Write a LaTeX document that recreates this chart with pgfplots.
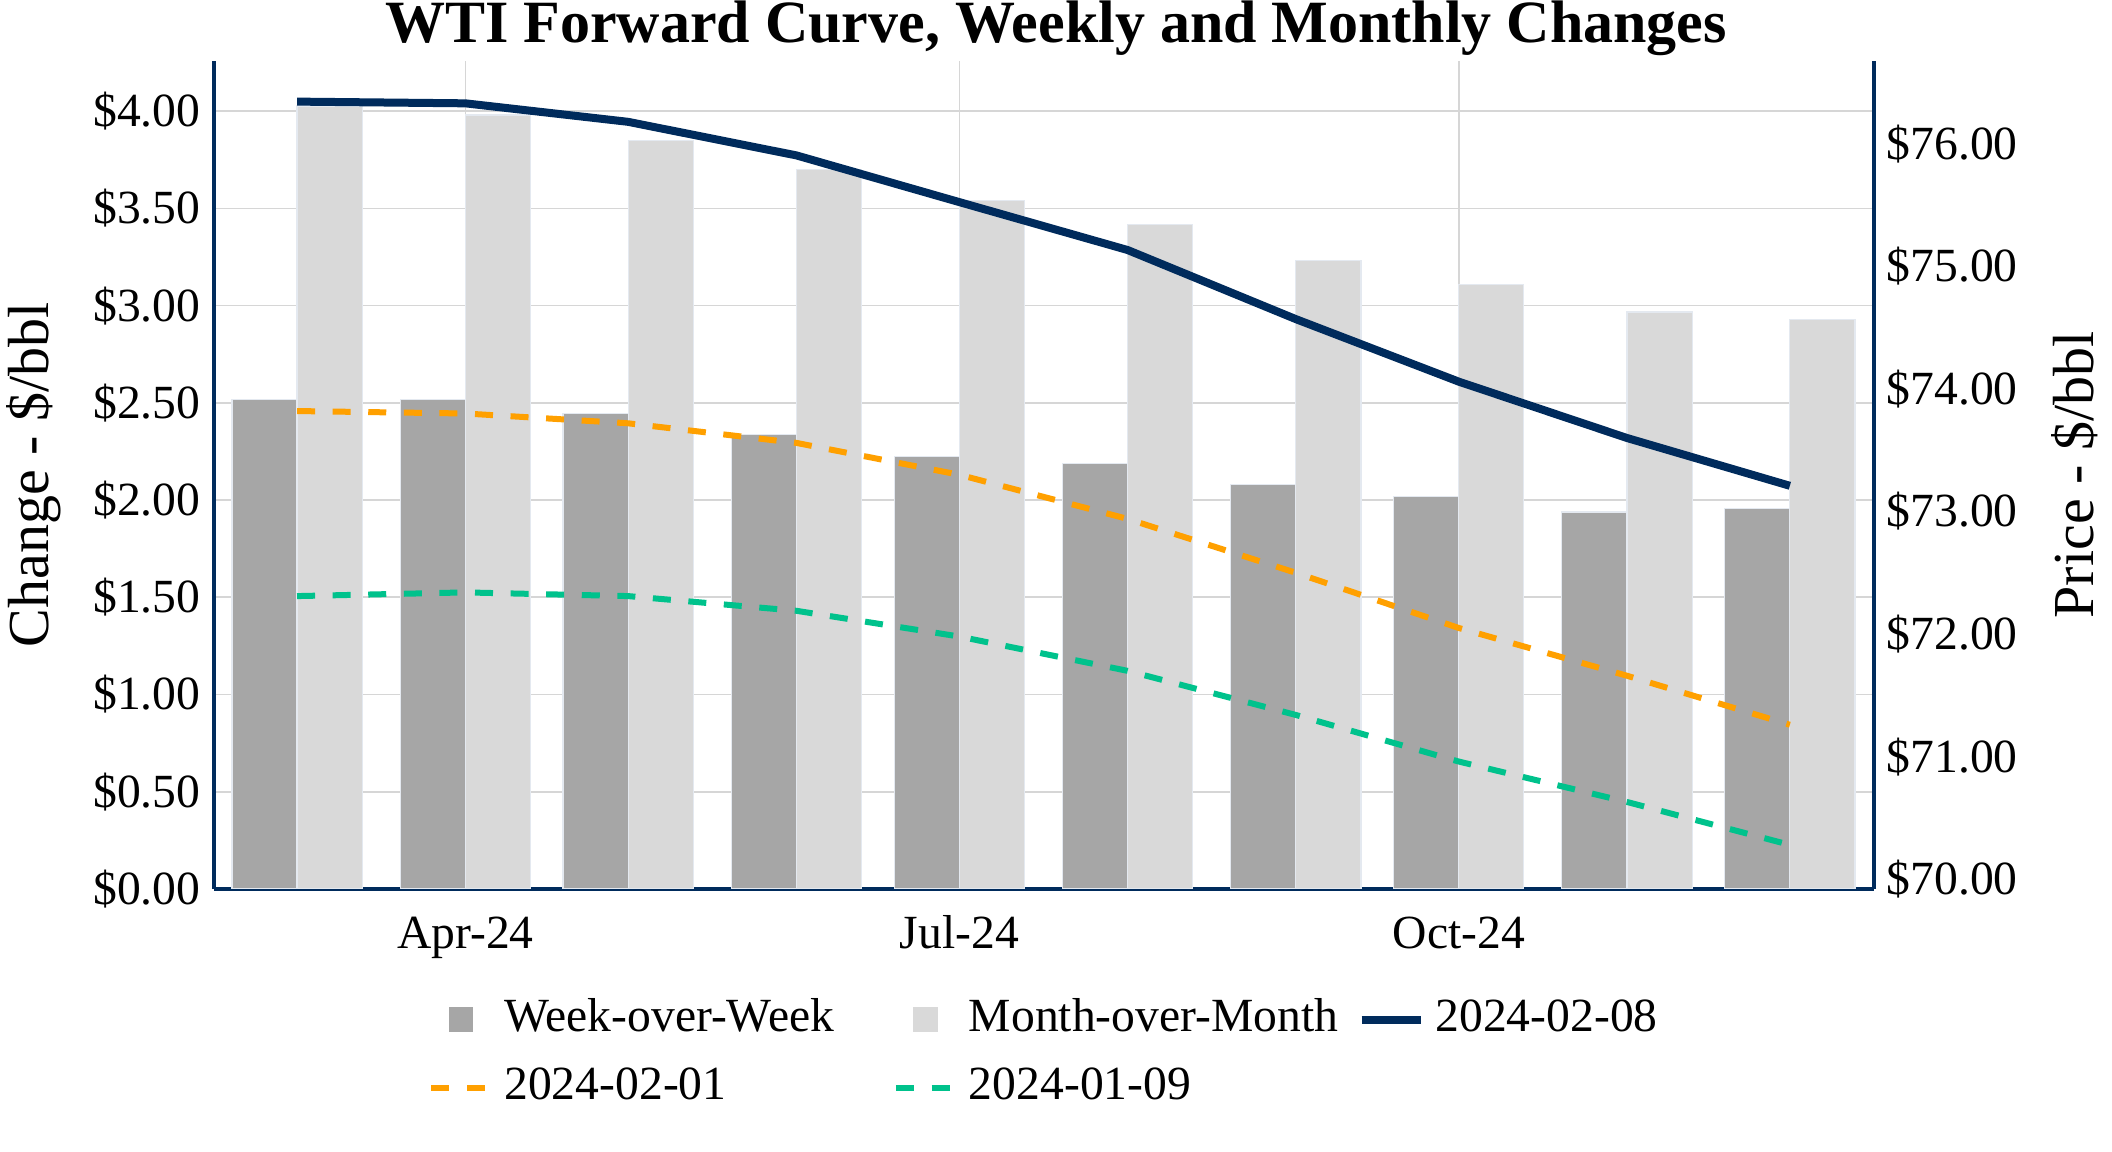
\documentclass[border=0pt]{standalone}
\usepackage{fontspec}
\setmainfont{Liberation Serif}
\usepackage{pgfplots}
\usepackage{pgfplotstable}
\pgfplotsset{compat=1.18}

\definecolor{navy}{RGB}{0,43,92}
\definecolor{wowc}{RGB}{166,166,166}
\definecolor{momc}{RGB}{217,217,217}
\definecolor{orng}{RGB}{255,160,0}
\definecolor{grn}{RGB}{0,194,140}
\definecolor{gridc}{RGB}{214,214,214}
\definecolor{bedge}{RGB}{228,233,240}

% x = days after 2024-03-01 (one point per month)
\pgfplotstableread{
x    wow   mom   feb08   feb01  jan09
0    2.518 4.026 76.345  73.82  72.31
31   2.518 3.980 76.331  73.80  72.34
61   2.447 3.848 76.180  73.72  72.31
92   2.336 3.698 75.906  73.56  72.19
122  2.226 3.541 75.525  73.30  71.98
153  2.189 3.417 75.134  72.94  71.70
184  2.079 3.230 74.570  72.50  71.34
214  2.020 3.108 74.060  72.05  70.96
245  1.939 2.967 73.600  71.66  70.63
275  1.957 2.930 73.210  71.26  70.28
}\curves

\pgfplotsset{
  twin/.style={
    scale only axis, width=415pt, height=207.1pt,
    xmin=-15.3, xmax=290.5,
    major tick length=0pt,
    /pgf/number format/assume math mode=true,
    ticklabel style={font=\fontsize{11.9}{13}\selectfont},
  },
}

\begin{document}
\begin{tikzpicture}
\path[use as bounding box] (-53.5pt,-65.75pt) rectangle (474.5pt,222.25pt);

\begin{axis}[
  twin,
  ymin=0, ymax=4.26,
  axis x line*=bottom, axis y line*=left,
  x axis line style={-, navy, line width=1pt},
  y axis line style={-, navy, line width=1pt},
  xtick={31,122,214},
  xticklabels={Apr-24,Jul-24,Oct-24},
  xticklabel style={anchor=base, yshift=-15pt},
  ytick={0,0.5,...,4},
  yticklabel={\$\pgfmathprintnumber[fixed,fixed zerofill,precision=2]{\tick}},
  yticklabel style={inner xsep=3.2pt},
  grid=major, grid style={gridc, line width=0.4pt},
  ybar=0pt, bar width=12,
]
  \addplot[fill=wowc, draw=bedge, line width=0.3pt] table[x=x, y=wow] {\curves};
  \addplot[fill=momc, draw=bedge, line width=0.3pt] table[x=x, y=mom] {\curves};
\end{axis}

\begin{axis}[
  twin,
  ymin=69.92, ymax=76.68,
  axis x line=none, axis y line*=right,
  y axis line style={-, navy, line width=1pt},
  ytick={70,71,...,76},
  yticklabel={\$\pgfmathprintnumber[fixed,fixed zerofill,precision=2]{\tick}},
  yticklabel style={inner xsep=3pt},
  legend image code/.code={\draw[#1] (0pt,0pt) -- (14.75pt,0pt);},
  legend columns=3,
  legend cell align=left,
  legend style={
    at={(rel axis cs:0,0)}, anchor=north west,
    xshift=53.4pt, yshift=-24pt,
    draw=none, fill=none, inner sep=0pt,
    font=\fontsize{11.9}{13}\selectfont,
    cells={anchor=west},
    nodes={inner xsep=2.75pt, inner ysep=2.5pt, text height=9pt, text depth=3pt},
    /tikz/column sep=0pt,
  },
]
  \addlegendimage{legend image code/.code={\fill[wowc] (4.5pt,-2.9pt) rectangle (10.3pt,2.9pt); \path (0pt,0pt) (14.75pt,0pt);}}
  \addlegendentry{\makebox[94.4pt][l]{Week-over-Week}}
  \addlegendimage{legend image code/.code={\fill[momc] (4.5pt,-2.9pt) rectangle (10.3pt,2.9pt); \path (0pt,0pt) (14.75pt,0pt);}}
  \addlegendentry{\makebox[94.4pt][l]{Month-over-Month}}

  \addplot[navy, line width=2pt] table[x=x, y=feb08] {\curves};
  \addlegendentry{\makebox[94.4pt][l]{2024-02-08}}
  \addplot[orng, line width=1.5pt, dash pattern=on 4.5pt off 4.4pt] table[x=x, y=feb01] {\curves};
  \addlegendentry{\makebox[94.4pt][l]{2024-02-01}}
  \addplot[grn, line width=1.5pt, dash pattern=on 4.5pt off 4.4pt] table[x=x, y=jan09] {\curves};
  \addlegendentry{\makebox[94.4pt][l]{2024-01-09}}
\end{axis}

\node[font=\fontsize{14.5}{16}\selectfont, rotate=90, anchor=center] at (-45pt,103.5pt) {Change - \$/bbl};
\node[font=\fontsize{14.5}{16}\selectfont, rotate=90, anchor=center] at (465.25pt,103.5pt) {Price - \$/bbl};
\node[font=\fontsize{15}{17}\selectfont\bfseries, anchor=base] at (210.5pt,211.7pt) {WTI Forward Curve, Weekly and Monthly Changes};
\end{tikzpicture}
\end{document}
